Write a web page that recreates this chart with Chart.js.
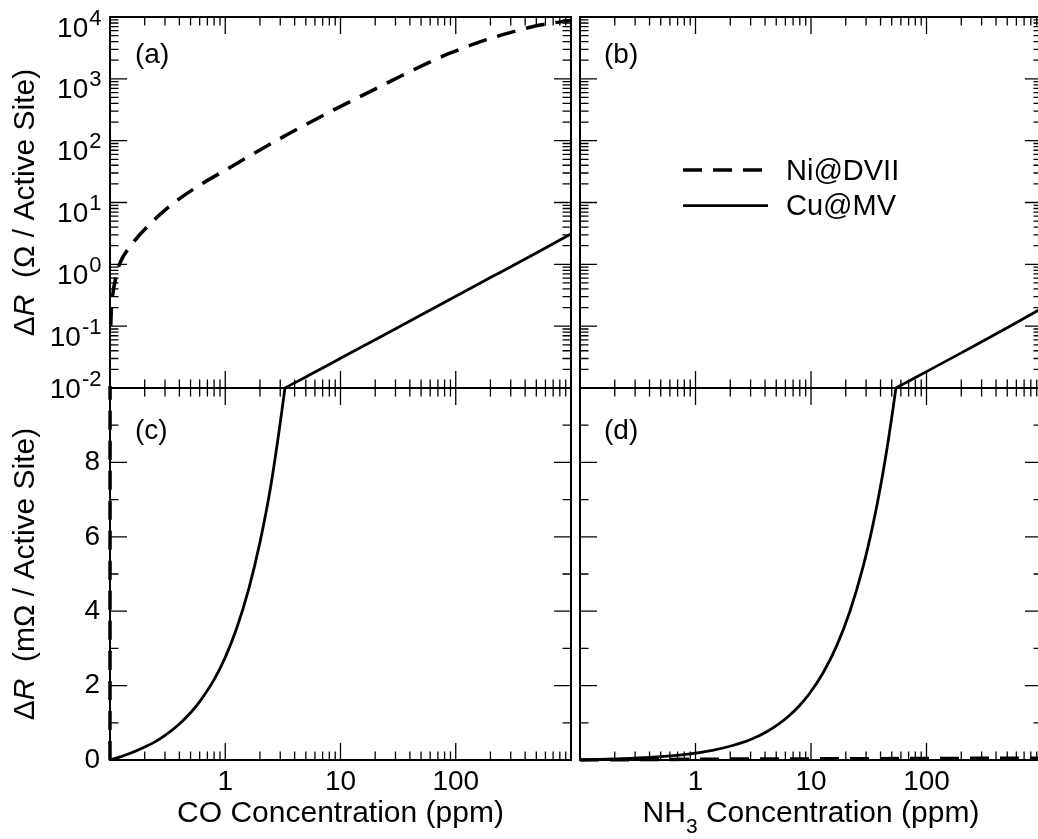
<!DOCTYPE html>
<html><head><meta charset="utf-8">
<script src="https://cdn.jsdelivr.net/npm/chart.js@4.4.1/dist/chart.umd.min.js"></script>
<style>
html,body{margin:0;padding:0;background:#fff;overflow:hidden;}
#wrap{position:relative;width:1038px;height:839px;overflow:hidden;background:#fff;}
#wrap canvas{position:absolute;left:0;top:0;}
</style></head><body>
<div id="wrap">
<canvas id="ca" width="1050" height="839"></canvas>
<canvas id="cb" width="1050" height="839"></canvas>
<canvas id="cc" width="1050" height="839"></canvas>
<canvas id="cd" width="1050" height="839"></canvas>
</div>
<script>
// ---------------- data ----------------
const seriesNames = ['Ni@DVII', 'Cu@MV'];
const panelTags = ['(a)', '(b)', '(c)', '(d)'];
const xLabelVals = [1, 10, 100];
const logYExp = [-2, -1, 0, 1, 2, 3, 4];
const linYLabels = [0, 2, 4, 6, 8];

// CO, Ni@DVII  (Ohm per active site)
const coNiPpm = [0.1, 0.1015, 0.103, 0.1055, 0.1127, 0.122, 0.149, 0.225, 0.359, 0.604, 1.03, 1.775, 3.09, 5.36, 9.27, 16.3, 28.7, 50.7, 89, 162, 296, 538, 1000];
const coNiOhm = [0, 0.1, 0.2, 0.32, 0.63, 1.05, 1.93, 4.6, 9.9, 19.2, 34.4, 62, 112, 195, 333, 565, 960, 1620, 2600, 3950, 5600, 7400, 8800];
// CO, Cu@MV
const coCuPpm = [0.1, 0.11, 0.125, 0.15, 0.2, 0.25, 0.3, 0.4, 0.5, 0.6, 0.8, 1, 1.25, 1.6, 2, 2.5, 3.2, 4, 5, 7, 10, 20, 50, 100, 200, 500, 1000];
const coCuOhm = [0, 0.000035, 0.00009, 0.00018, 0.00035, 0.0005, 0.00066, 0.00097, 0.00127, 0.00157, 0.00216, 0.00276, 0.00352, 0.0046, 0.00585, 0.00742, 0.0097, 0.0121, 0.0151, 0.0211, 0.0302, 0.0605, 0.152, 0.305, 0.61, 1.53, 3.1];
// NH3, Cu@MV
const nhCuPpm = [0.1, 0.2, 0.4, 0.83, 1.4, 2.1, 3, 4.1, 5.2, 6.5, 8, 9.75, 12.7, 16.6, 21.7, 28.3, 34.5, 40.7, 46.5, 51.4, 55, 60, 70, 100, 200, 500, 1000];
const nhCuOhm = [0, 0.00003, 0.00007, 0.00015, 0.00026, 0.00039, 0.00055, 0.000755, 0.000957, 0.001196, 0.001472, 0.001794, 0.002337, 0.003054, 0.003993, 0.005207, 0.006348, 0.007489, 0.008556, 0.009458, 0.01012, 0.01104, 0.0129, 0.0184, 0.037, 0.094, 0.195];
// NH3, Ni@DVII
const nhNiPpm = [0.1, 1, 10, 100, 1000];
const nhNiOhm = [0, 0.00002, 0.00003, 0.00004, 0.00005];

// ---------------- layout ----------------
const W = 1050, H = 839;
const BOX = {
  a: {l: 110, r: 571, t: 17, b: 388},
  b: {l: 580, r: 1042, t: 17, b: 388},
  c: {l: 110, r: 571, t: 388, b: 760},
  d: {l: 580, r: 1042, t: 388, b: 760}
};
const FAM = '"Liberation Sans", Arial, Helvetica, sans-serif';
const f = (s, st) => (st ? st + ' ' : '') + s + 'px ' + FAM;

function pts(xs, ys, k) { return xs.map((x, i) => ({x: x, y: ys[i] * k})); }

function niStyle(data) {
  return {label: seriesNames[0], data, borderColor: '#000', borderWidth: 3.5, borderDash: [19, 11],
    pointRadius: 0, fill: false, cubicInterpolationMode: 'monotone', borderCapStyle: 'butt',
    clip: {left: 4, top: 2, right: 2, bottom: 2}};
}
function cuStyle(data) {
  return {label: seriesNames[1], data, borderColor: '#000', borderWidth: 2.8,
    pointRadius: 0, fill: false, cubicInterpolationMode: 'monotone'};
}

function logTicks(e0, e1) {
  const out = [];
  for (let e = e0; e <= e1; e++) {
    out.push({v: Math.pow(10, e), major: true});
    if (e < e1) for (let m = 2; m <= 9; m++) out.push({v: m * Math.pow(10, e), major: false});
  }
  return out;
}
function linTicks(a, b) {
  const out = [];
  for (let v = a; v <= b; v++) out.push({v, major: v % 2 === 0});
  return out;
}

function framePlugin(yLog, drawText) {
  return {
    id: 'frame',
    beforeDatasetsDraw(chart) {
      const ctx = chart.ctx, a = chart.chartArea, x = chart.scales.x, y = chart.scales.y;
      ctx.save();
      ctx.strokeStyle = '#000';
      ctx.lineWidth = 1.3;
      ctx.beginPath();
      for (const t of logTicks(-1, 3)) {
        const px = x.getPixelForValue(t.v), L = t.major ? 17 : 8.5;
        ctx.moveTo(px, a.top); ctx.lineTo(px, a.top + L);
        ctx.moveTo(px, a.bottom); ctx.lineTo(px, a.bottom - L);
      }
      for (const t of (yLog ? logTicks(-2, 4) : linTicks(0, 10))) {
        const py = y.getPixelForValue(t.v), L = t.major ? 17 : 8.5;
        ctx.moveTo(a.left, py); ctx.lineTo(a.left + L, py);
        ctx.moveTo(a.right, py); ctx.lineTo(a.right - L, py);
      }
      ctx.stroke();
      ctx.lineWidth = 2;
      ctx.strokeRect(a.left, a.top, a.right - a.left, a.bottom - a.top);
      ctx.restore();
    },
    afterDraw(chart) { chart.ctx.save(); chart.ctx.fillStyle = '#000'; drawText(chart.ctx, chart); chart.ctx.restore(); }
  };
}

function drawParts(ctx, parts, x0, y0) {
  let x = x0;
  for (const p of parts) {
    ctx.font = p[1]; ctx.textAlign = 'left'; ctx.textBaseline = 'alphabetic';
    ctx.fillText(p[0], x, y0 + (p[2] || 0));
    x += ctx.measureText(p[0]).width;
  }
}
function partsWidth(ctx, parts) {
  let w = 0;
  for (const p of parts) { ctx.font = p[1]; w += ctx.measureText(p[0]).width; }
  return w;
}
function yTitle(ctx, cx, cy, unit) {
  const parts = [['\u0394', f(30)], ['R', f(30, 'italic')], ['  (' + unit + ' / Active Site)', f(30)]];
  const w = partsWidth(ctx, parts);
  ctx.save(); ctx.translate(cx, cy); ctx.rotate(-Math.PI / 2);
  drawParts(ctx, parts, -w / 2, 0);
  ctx.restore();
}
function centeredParts(ctx, parts, cx, y) {
  const w = partsWidth(ctx, parts);
  drawParts(ctx, parts, cx - w / 2, y);
}
function tag(ctx, s, x, y) {
  ctx.font = f(28); ctx.textAlign = 'left'; ctx.textBaseline = 'alphabetic'; ctx.fillText(s, x, y);
}

function makeChart(id, box, yLog, datasets, showX, showY, drawText) {
  const xScale = {
    type: 'logarithmic', min: 0.1, max: 1000,
    grid: {display: false, drawTicks: false}, border: {display: false},
    ticks: {display: showX, autoSkip: false, maxRotation: 0, padding: 5, color: '#000',
      font: {family: FAM, size: 28}, callback: v => String(v)},
    afterBuildTicks: s => { if (showX) s.ticks = xLabelVals.map(v => ({value: v})); },
    afterFit: s => { s.height = H - box.b; }
  };
  const yScale = yLog ? {
    type: 'logarithmic', min: 0.01, max: 10000,
    grid: {display: false, drawTicks: false}, border: {display: false},
    ticks: {display: false},
    afterFit: s => { s.width = box.l; }
  } : {
    type: 'linear', min: 0, max: 10,
    grid: {display: false, drawTicks: false}, border: {display: false},
    ticks: {display: showY, padding: 10, color: '#000', font: {family: FAM, size: 28}, callback: v => String(v)},
    afterBuildTicks: s => { if (showY) s.ticks = linYLabels.map(v => ({value: v})); },
    afterFit: s => { s.width = box.l; }
  };
  return new Chart(document.getElementById(id), {
    type: 'line',
    data: {datasets},
    options: {
      responsive: false, animation: false, devicePixelRatio: 1, events: [],
      layout: {padding: {left: 0, top: box.t, right: W - box.r, bottom: 0}},
      scales: {x: xScale, y: yScale},
      plugins: {legend: {display: false}, tooltip: {enabled: false}}
    },
    plugins: [framePlugin(yLog, drawText)]
  });
}

// (a) CO, log scale, Ohm
makeChart('ca', BOX.a, true,
  [niStyle(pts(coNiPpm, coNiOhm, 1)), cuStyle(pts(coCuPpm, coCuOhm, 1))], false, false,
  (ctx, chart) => {
    const ys = chart.scales.y;
    for (const e of logYExp) {
      const py = ys.getPixelForValue(Math.pow(10, e));
      const base = e === -2 ? py + 10 : py + 19.5;
      const s = String(e);
      ctx.textBaseline = 'alphabetic'; ctx.textAlign = 'right';
      ctx.font = f(22); const sw = ctx.measureText(s).width;
      ctx.fillText(s, 101.5, base - 12);
      ctx.font = f(28); ctx.fillText('10', 101.5 - sw - 1, base);
    }
    yTitle(ctx, 34.4, (BOX.a.t + BOX.a.b) / 2, '\u03A9');
    tag(ctx, panelTags[0], 135, 62.5);
  });

// (b) NH3, log scale, Ohm  + legend
makeChart('cb', BOX.b, true,
  [niStyle(pts(nhNiPpm, nhNiOhm, 1)), cuStyle(pts(nhCuPpm, nhCuOhm, 1))], false, false,
  (ctx, chart) => {
    tag(ctx, panelTags[1], 604, 62.5);
    const ds = chart.data.datasets;
    const rows = [{y: 170, ty: 180}, {y: 205.7, ty: 215}];
    ds.forEach((d, i) => {
      ctx.save();
      ctx.strokeStyle = d.borderColor; ctx.lineWidth = d.borderWidth;
      ctx.setLineDash(d.borderDash || []); ctx.lineCap = 'butt';
      ctx.beginPath(); ctx.moveTo(683, rows[i].y); ctx.lineTo(i === 0 ? 763 : 768, rows[i].y); ctx.stroke();
      ctx.restore();
      ctx.font = f(29); ctx.textAlign = 'left'; ctx.textBaseline = 'alphabetic';
      ctx.fillText(d.label, 786, rows[i].ty);
    });
  });

// (c) CO, linear, mOhm
makeChart('cc', BOX.c, false,
  [niStyle(pts(coNiPpm, coNiOhm, 1000)), cuStyle(pts(coCuPpm, coCuOhm, 1000))], true, true,
  (ctx) => {
    yTitle(ctx, 34.4, (BOX.c.t + BOX.c.b) / 2, 'm\u03A9');
    centeredParts(ctx, [['CO Concentration (ppm)', f(30)]], (BOX.c.l + BOX.c.r) / 2, 821.7);
    tag(ctx, panelTags[2], 135, 439);
  });

// (d) NH3, linear, mOhm
makeChart('cd', BOX.d, false,
  [niStyle(pts(nhNiPpm, nhNiOhm, 1000)), cuStyle(pts(nhCuPpm, nhCuOhm, 1000))], true, false,
  (ctx) => {
    centeredParts(ctx, [['NH', f(30)], ['3', f(21), 11.5], [' Concentration (ppm)', f(30)]], (BOX.d.l + BOX.d.r) / 2, 821.7);
    tag(ctx, panelTags[3], 604, 439);
  });
</script>
</body></html>
